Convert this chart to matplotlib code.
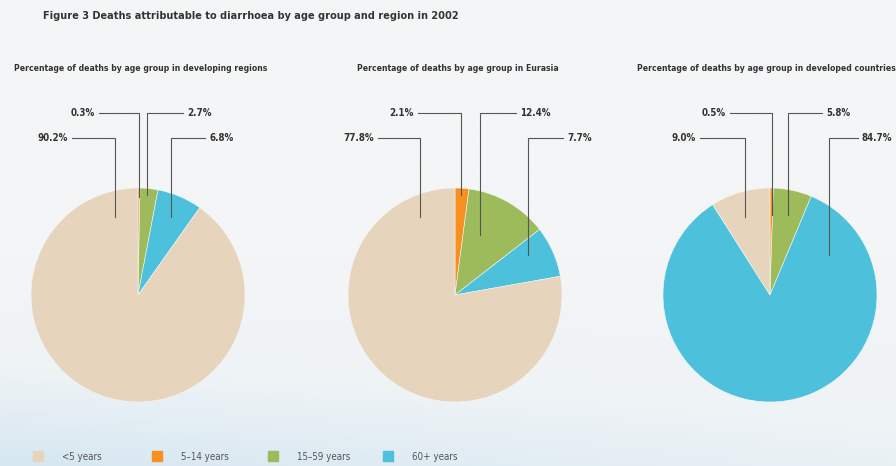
import matplotlib
matplotlib.use('Agg')
import matplotlib.pyplot as plt
from matplotlib.colors import LinearSegmentedColormap
import numpy as np

# Deaths attributable to diarrhoea, share by age group (%), 2002
age_groups = ['<5 years', '5\u201314 years', '15\u201359 years', '60+ years']
regions = ['developing regions', 'Eurasia', 'developed countries']
under5 = [90.2, 77.8, 9.0]
age5_14 = [0.3, 2.1, 0.5]
age15_59 = [2.7, 12.4, 5.8]
age60plus = [6.8, 7.7, 84.7]

colors = ['#e7d4bc', '#f7901e', '#9dbb5b', '#4dc1dc']

W, H = 896, 466
centers = [(138, 295), (455, 295), (770, 295)]
R = 107

# leader lines per wedge in px: (x of the drop line, height above centre,
# label row (0 = upper, 1 = lower), side of the label, length of the arm)
leaders = [
    [(-23, 78, 1, 'l', 43), (1, 98, 0, 'l', 40), (9, 100, 0, 'r', 36), (33, 78, 1, 'r', 34)],
    [(-35, 78, 1, 'l', 42), (6, 100, 0, 'l', 43), (25, 60, 0, 'r', 36), (73, 40, 1, 'r', 35)],
    [(-25, 78, 1, 'l', 45), (2, 80, 0, 'l', 42), (18, 80, 0, 'r', 34), (59, 40, 1, 'r', 29)],
]
row_y = [182, 157]

plt.rcParams['font.family'] = ['DejaVu Sans']
plt.rcParams['font.stretch'] = 'condensed'

fig = plt.figure(figsize=(W / 100, H / 100), dpi=100)

# pale backdrop fading to light blue towards the bottom
bg = fig.add_axes([0, 0, 1, 1])
bg.axis('off')
cmap = LinearSegmentedColormap.from_list('bg', ['#f4f5f6', '#eef3f6', '#d6e7f1'])
yy = np.linspace(0, 1, 200)[:, None]
grad = np.clip((yy - 0.55) / 0.45, 0, 1) ** 1.1
xx = np.linspace(0, 1, 300)[None, :]
grad = grad * (1 - 0.4 * xx)
bg.imshow(grad, cmap=cmap, aspect='auto', extent=[0, 1, 1, 0], vmin=0, vmax=1)
bg.set_xlim(0, 1)
bg.set_ylim(1, 0)

fig.text(43 / W, 1 - 16 / H,
         'Figure 3 Deaths attributable to diarrhoea by age group and region in 2002',
         fontsize=7.8, fontweight='bold', color='#333333', va='center', ha='left')

sub_x = [14, 357, 637]
half = 165
for i, (cx, cy) in enumerate(centers):
    ax = fig.add_axes([(cx - half) / W, 1 - (cy + half) / H, 2 * half / W, 2 * half / H])
    vals = [under5[i], age5_14[i], age15_59[i], age60plus[i]]
    # clockwise from 12 o'clock: 5-14, 15-59, 60+, then <5 closing the circle
    order = [1, 2, 3, 0]
    ax.pie([vals[k] for k in order], colors=[colors[k] for k in order],
           startangle=90, counterclock=False, radius=1.0,
           wedgeprops=dict(edgecolor='#f4f6f7', linewidth=0.4))
    lim = half / R
    ax.set_xlim(-lim, lim)
    ax.set_ylim(-lim, lim)
    ax.set_aspect('equal')
    ax.axis('off')

    for k in range(4):
        dx, depth, row, side, length = leaders[i][k]
        x0 = dx / R
        y0 = depth / R
        y1 = row_y[row] / R
        x1 = x0 - length / R if side == 'l' else x0 + length / R
        ax.plot([x0, x0, x1], [y0, y1, y1], color='#555555', lw=0.8,
                solid_joinstyle='miter', clip_on=False)
        ax.text(x1 + (-4 / R if side == 'l' else 4 / R), y1, '%.1f%%' % vals[k],
                ha='right' if side == 'l' else 'left', va='center',
                fontsize=7, fontweight='bold', color='#333333', clip_on=False)

    fig.text(sub_x[i] / W, 1 - 68 / H,
             'Percentage of deaths by age group in ' + regions[i],
             fontsize=6.2, fontweight='bold', color='#333333', va='center', ha='left')

# legend row
leg_x = [33, 152, 268, 383]
for k in range(4):
    fig.patches.append(plt.Rectangle((leg_x[k] / W, 1 - 461 / H), 10 / W, 10 / H,
                                     transform=fig.transFigure, color=colors[k]))
    fig.text((leg_x[k] + 29) / W, 1 - 457 / H, age_groups[k],
             fontsize=7, color='#555555', va='center', ha='left')

fig.savefig('out.png', dpi=100)
